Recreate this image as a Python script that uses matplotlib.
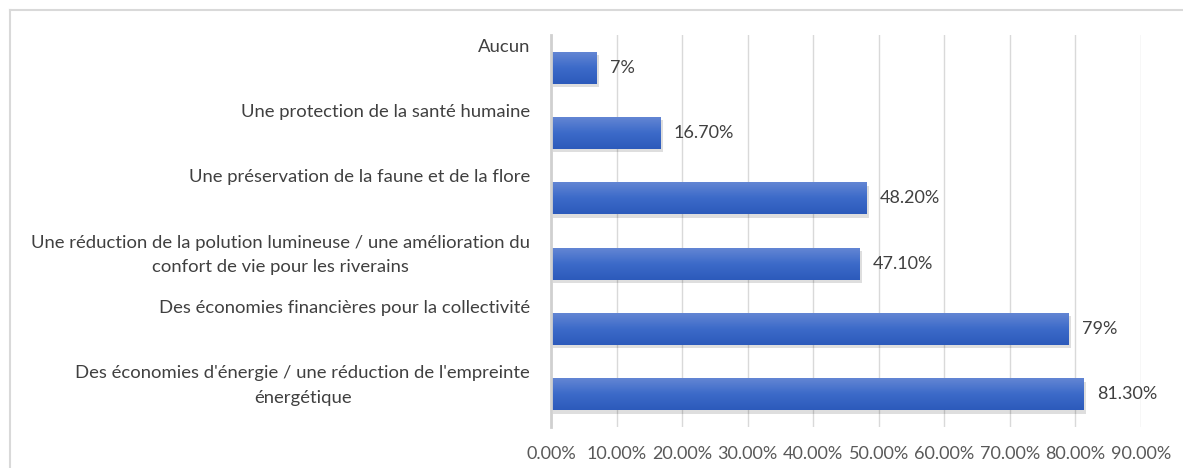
import numpy as np
import matplotlib
matplotlib.use("Agg")
import matplotlib.pyplot as plt
import matplotlib.patheffects as pe
from matplotlib.colors import LinearSegmentedColormap

categories = [
    "Aucun",
    "Une protection de la santé humaine",
    "Une préservation de la faune et de la flore",
    "Une réduction de la polution lumineuse / une amélioration du\nconfort de vie pour les riverains",
    "Des économies financières pour la collectivité",
    "Des économies d'énergie / une réduction de l'empreinte\nénergétique",
]
values = [7.0, 16.7, 48.2, 47.1, 79.0, 81.3]
value_labels = ["7%", "16.70%", "48.20%", "47.10%", "79%", "81.30%"]
x_ticks = [0, 10, 20, 30, 40, 50, 60, 70, 80, 90]
x_tick_labels = [f"{t:.2f}%" for t in x_ticks]

plt.rcParams['font.family'] = ['Lato', 'DejaVu Sans']

W, H = 1183, 468
fig = plt.figure(figsize=(W / 100, H / 100), dpi=100)
fig.patch.set_facecolor("white")

# outer chart border (top & left visible)
fig.add_artist(plt.Line2D([10 / W, 10 / W], [0, 1 - 10 / H], transform=fig.transFigure,
                          color="#D9D9D9", lw=1.5))
fig.add_artist(plt.Line2D([10 / W, 1], [1 - 10 / H, 1 - 10 / H], transform=fig.transFigure,
                          color="#D9D9D9", lw=1.5))

ax = fig.add_axes([551 / W, 1 - 427 / H, 590 / W, 392 / H])
n = len(categories)
ypos = np.arange(n)

bars = ax.barh(ypos, values, height=0.49, color="#3F6CC8", zorder=3,
               path_effects=[pe.SimplePatchShadow(offset=(1.5, -2.5), shadow_rgbFace="#000000", alpha=0.13),
                             pe.Normal()])

cmap = LinearSegmentedColormap.from_list("g", ["#6587D4", "#3D6BC9", "#2C5ABB"])
grad = np.linspace(0, 1, 64).reshape(-1, 1)
for b in bars:
    x0, y0 = b.get_x(), b.get_y()
    w, h = b.get_width(), b.get_height()
    im = ax.imshow(grad, cmap=cmap, aspect="auto", extent=[x0, x0 + w, y0 + h, y0],
                   origin="upper", zorder=4)
    im.set_clip_path(b)

ax.set_xlim(0, 90)
ax.set_ylim(n - 0.5, -0.5)
ax.set_xticks(x_ticks)
ax.set_xticklabels(x_tick_labels)
ax.set_yticks([])
ax.tick_params(axis="x", length=0, pad=14, labelsize=13, labelcolor="#595959")
ax.grid(axis="x", color="#D9D9D9", lw=1, zorder=0)
for s in ["top", "right", "bottom"]:
    ax.spines[s].set_visible(False)
ax.spines["left"].set_color("#D0D0D0")
ax.spines["left"].set_linewidth(2)
ax.spines["left"].set_zorder(5)

for y, lab in zip(ypos, categories):
    ax.annotate(lab, xy=(0, y), xycoords="data", xytext=(-21, 29), textcoords="offset pixels",
                ha="right", va="top", multialignment="center", fontsize=13.3, color="#404040",
                linespacing=1.65, annotation_clip=False)

for y, v, lab in zip(ypos, values, value_labels):
    ax.annotate(lab, xy=(v, y), xycoords="data", xytext=(13, 0), textcoords="offset pixels",
                ha="left", va="center", fontsize=13, color="#404040")

ax.set_xlim(0, 90)
ax.set_ylim(n - 0.5, -0.5)
fig.savefig("out.png", dpi=100)
